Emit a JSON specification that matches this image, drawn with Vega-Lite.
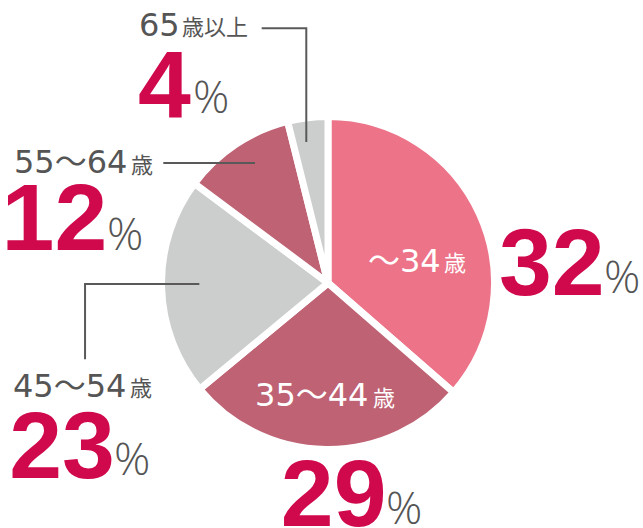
{
  "$schema": "https://vega.github.io/schema/vega-lite/v6.json",
  "width": 630,
  "height": 490,
  "autosize": {"type": "none"},
  "padding": {"left": 13, "top": 38, "right": 0, "bottom": 0},
  "background": "white",
  "config": {"view": {"stroke": null}},
  "data": {"values": [
    {"order": 1, "category": "～34歳", "lab": "～34", "unit": "歳", "share": 36.4, "pct": "32"},
    {"order": 2, "category": "35～44歳", "lab": "35～44", "unit": "歳", "share": 27.6, "pct": "29"},
    {"order": 3, "category": "45～54歳", "lab": "45～54", "unit": "歳", "share": 21.2, "pct": "23"},
    {"order": 4, "category": "55～64歳", "lab": "55～64", "unit": "歳", "share": 10.9, "pct": "12"},
    {"order": 5, "category": "65歳以上", "lab": "65", "unit": "歳以上", "share": 3.9, "pct": "4"}
  ]},
  "transform": [
    {"stack": "share", "groupby": [], "sort": [{"field": "order", "order": "ascending"}], "as": ["s0", "s1"]},
    {"calculate": "(datum.s0 + datum.s1) / 2", "as": "mid"}
  ],
  "layer": [
    {
      "mark": {"type": "arc", "outerRadius": 166.5, "stroke": "white", "strokeWidth": 7, "strokeJoin": "round"},
      "encoding": {
        "theta": {"field": "s0", "type": "quantitative", "stack": null, "scale": {"domain": [0, 100]}},
        "theta2": {"field": "s1"},
        "color": {"field": "category", "type": "nominal", "legend": null,
          "scale": {"domain": ["～34歳", "35～44歳", "45～54歳", "55～64歳", "65歳以上"],
                    "range": ["#ED7389", "#BE6274", "#CCCDCD", "#BE6274", "#CCCDCD"]}}
      }
    },
    {
      "transform": [{"filter": "datum.order == 5"}, {"calculate": "140 * sin(datum.mid / 50 * PI)", "as": "ax"}, {"calculate": "140 * cos(datum.mid / 50 * PI)", "as": "ay"}],
      "mark": {"type": "point", "shape": "M-4.6,-2.1V-115.8H-49.2", "size": 4, "filled": false, "color": "#595959", "stroke": "#595959", "strokeWidth": 2, "opacity": 1},
      "encoding": {
        "x": {"field": "ax", "type": "quantitative", "scale": {"domain": [-315, 315], "nice": false, "zero": false}, "axis": null},
        "y": {"field": "ay", "type": "quantitative", "scale": {"domain": [-245, 245], "nice": false, "zero": false}, "axis": null}
      }
    },
    {
      "transform": [{"filter": "datum.order == 4"}, {"calculate": "140 * sin(datum.mid / 50 * PI)", "as": "ax"}, {"calculate": "140 * cos(datum.mid / 50 * PI)", "as": "ay"}],
      "mark": {"type": "point", "shape": "M4.6,-3.5H-87.1", "size": 4, "filled": false, "color": "#595959", "stroke": "#595959", "strokeWidth": 2, "opacity": 1},
      "encoding": {
        "x": {"field": "ax", "type": "quantitative", "scale": {"domain": [-315, 315], "nice": false, "zero": false}, "axis": null},
        "y": {"field": "ay", "type": "quantitative", "scale": {"domain": [-245, 245], "nice": false, "zero": false}, "axis": null}
      }
    },
    {
      "transform": [{"filter": "datum.order == 3"}, {"calculate": "140 * sin(datum.mid / 50 * PI)", "as": "ax"}, {"calculate": "140 * cos(datum.mid / 50 * PI)", "as": "ay"}],
      "mark": {"type": "point", "shape": "M11.3,-2.5H-103V72.8", "size": 4, "filled": false, "color": "#595959", "stroke": "#595959", "strokeWidth": 2, "opacity": 1},
      "encoding": {
        "x": {"field": "ax", "type": "quantitative", "scale": {"domain": [-315, 315], "nice": false, "zero": false}, "axis": null},
        "y": {"field": "ay", "type": "quantitative", "scale": {"domain": [-245, 245], "nice": false, "zero": false}, "axis": null}
      }
    },
    {
      "transform": [{"filter": "datum.order == 1"}],
      "mark": {"type": "text", "radius": 100, "align": "left", "baseline": "alphabetic", "dx": -51, "dy": 30.1, "font": "DejaVu Sans, Noto Sans CJK JP", "fontSize": 32, "fill": "white"},
      "encoding": {"theta": {"field": "mid", "type": "quantitative", "stack": null, "scale": {"domain": [0, 100]}}, "text": {"field": "lab"}}
    },
    {
      "transform": [{"filter": "datum.order == 1"}],
      "mark": {"type": "text", "radius": 100, "align": "left", "baseline": "alphabetic", "dx": 25, "dy": 29.4, "font": "Noto Sans CJK JP", "fontSize": 22, "fill": "white"},
      "encoding": {"theta": {"field": "mid", "type": "quantitative", "stack": null, "scale": {"domain": [0, 100]}}, "text": {"field": "unit"}}
    },
    {
      "transform": [{"filter": "datum.order == 1"}],
      "mark": {"type": "text", "radius": 200, "align": "left", "baseline": "alphabetic", "dx": -11.1, "dy": 94.9, "font": "Liberation Sans", "fontWeight": "bold", "fontSize": 95, "fill": "#D0084C"},
      "encoding": {"theta": {"field": "mid", "type": "quantitative", "stack": null, "scale": {"domain": [0, 100]}}, "text": {"field": "pct"}}
    },
    {
      "transform": [{"filter": "datum.order == 1"}],
      "mark": {"type": "text", "text": "%", "radius": 200, "align": "left", "baseline": "alphabetic", "dx": 94, "dy": 92.9, "font": "Open Sans", "fontWeight": 300, "fontSize": 45, "fill": "#555555"},
      "encoding": {"theta": {"field": "mid", "type": "quantitative", "stack": null, "scale": {"domain": [0, 100]}}}
    },
    {
      "transform": [{"filter": "datum.order == 2"}],
      "mark": {"type": "text", "radius": 110, "align": "left", "baseline": "alphabetic", "dx": -71.6, "dy": 13, "font": "DejaVu Sans, Noto Sans CJK JP", "fontSize": 32, "fill": "white"},
      "encoding": {"theta": {"field": "mid", "type": "quantitative", "stack": null, "scale": {"domain": [0, 100]}}, "text": {"field": "lab"}}
    },
    {
      "transform": [{"filter": "datum.order == 2"}],
      "mark": {"type": "text", "radius": 110, "align": "left", "baseline": "alphabetic", "dx": 46.4, "dy": 13, "font": "Noto Sans CJK JP", "fontSize": 22, "fill": "white"},
      "encoding": {"theta": {"field": "mid", "type": "quantitative", "stack": null, "scale": {"domain": [0, 100]}}, "text": {"field": "unit"}}
    },
    {
      "transform": [{"filter": "datum.order == 2"}],
      "mark": {"type": "text", "radius": 220, "align": "left", "baseline": "alphabetic", "dx": -44.4, "dy": 23, "font": "Liberation Sans", "fontWeight": "bold", "fontSize": 95, "fill": "#D0084C"},
      "encoding": {"theta": {"field": "mid", "type": "quantitative", "stack": null, "scale": {"domain": [0, 100]}}, "text": {"field": "pct"}}
    },
    {
      "transform": [{"filter": "datum.order == 2"}],
      "mark": {"type": "text", "text": "%", "radius": 220, "align": "left", "baseline": "alphabetic", "dx": 60.8, "dy": 21, "font": "Open Sans", "fontWeight": 300, "fontSize": 45, "fill": "#555555"},
      "encoding": {"theta": {"field": "mid", "type": "quantitative", "stack": null, "scale": {"domain": [0, 100]}}}
    },
    {
      "transform": [{"filter": "datum.order == 3"}],
      "mark": {"type": "text", "radius": 220, "align": "left", "baseline": "alphabetic", "dx": -95.1, "dy": 108.2, "font": "DejaVu Sans, Noto Sans CJK JP", "fontSize": 32, "fill": "#555555"},
      "encoding": {"theta": {"field": "mid", "type": "quantitative", "stack": null, "scale": {"domain": [0, 100]}}, "text": {"field": "lab"}}
    },
    {
      "transform": [{"filter": "datum.order == 3"}],
      "mark": {"type": "text", "radius": 220, "align": "left", "baseline": "alphabetic", "dx": 21.9, "dy": 107.5, "font": "Noto Sans CJK JP", "fontSize": 22, "fill": "#555555"},
      "encoding": {"theta": {"field": "mid", "type": "quantitative", "stack": null, "scale": {"domain": [0, 100]}}, "text": {"field": "unit"}}
    },
    {
      "transform": [{"filter": "datum.order == 3"}],
      "mark": {"type": "text", "radius": 220, "align": "left", "baseline": "alphabetic", "dx": -98.8, "dy": 189.5, "font": "Liberation Sans", "fontWeight": "bold", "fontSize": 95, "fill": "#D0084C"},
      "encoding": {"theta": {"field": "mid", "type": "quantitative", "stack": null, "scale": {"domain": [0, 100]}}, "text": {"field": "pct"}}
    },
    {
      "transform": [{"filter": "datum.order == 3"}],
      "mark": {"type": "text", "text": "%", "radius": 220, "align": "left", "baseline": "alphabetic", "dx": 5.9, "dy": 186.5, "font": "Open Sans", "fontWeight": 300, "fontSize": 45, "fill": "#555555"},
      "encoding": {"theta": {"field": "mid", "type": "quantitative", "stack": null, "scale": {"domain": [0, 100]}}}
    },
    {
      "transform": [{"filter": "datum.order == 4"}],
      "mark": {"type": "text", "radius": 220, "align": "left", "baseline": "alphabetic", "dx": -192.1, "dy": 73.4, "font": "DejaVu Sans, Noto Sans CJK JP", "fontSize": 32, "fill": "#555555"},
      "encoding": {"theta": {"field": "mid", "type": "quantitative", "stack": null, "scale": {"domain": [0, 100]}}, "text": {"field": "lab"}}
    },
    {
      "transform": [{"filter": "datum.order == 4"}],
      "mark": {"type": "text", "radius": 220, "align": "left", "baseline": "alphabetic", "dx": -75.1, "dy": 73.1, "font": "Noto Sans CJK JP", "fontSize": 22, "fill": "#555555"},
      "encoding": {"theta": {"field": "mid", "type": "quantitative", "stack": null, "scale": {"domain": [0, 100]}}, "text": {"field": "unit"}}
    },
    {
      "transform": [{"filter": "datum.order == 4"}],
      "mark": {"type": "text", "radius": 220, "align": "left", "baseline": "alphabetic", "dx": -204.5, "dy": 150.1, "font": "Liberation Sans", "fontWeight": "bold", "fontSize": 95, "fill": "#D0084C"},
      "encoding": {"theta": {"field": "mid", "type": "quantitative", "stack": null, "scale": {"domain": [0, 100]}}, "text": {"field": "pct"}}
    },
    {
      "transform": [{"filter": "datum.order == 4"}],
      "mark": {"type": "text", "text": "%", "radius": 220, "align": "left", "baseline": "alphabetic", "dx": -99.1, "dy": 150.1, "font": "Open Sans", "fontWeight": 300, "fontSize": 45, "fill": "#555555"},
      "encoding": {"theta": {"field": "mid", "type": "quantitative", "stack": null, "scale": {"domain": [0, 100]}}}
    },
    {
      "transform": [{"filter": "datum.order == 5"}],
      "mark": {"type": "text", "radius": 220, "align": "left", "baseline": "alphabetic", "dx": -162.1, "dy": -28.6, "font": "DejaVu Sans, Noto Sans CJK JP", "fontSize": 32, "fill": "#555555"},
      "encoding": {"theta": {"field": "mid", "type": "quantitative", "stack": null, "scale": {"domain": [0, 100]}}, "text": {"field": "lab"}}
    },
    {
      "transform": [{"filter": "datum.order == 5"}],
      "mark": {"type": "text", "radius": 220, "align": "left", "baseline": "alphabetic", "dx": -119.1, "dy": -29.6, "font": "Noto Sans CJK JP", "fontSize": 22, "fill": "#555555"},
      "encoding": {"theta": {"field": "mid", "type": "quantitative", "stack": null, "scale": {"domain": [0, 100]}}, "text": {"field": "unit"}}
    },
    {
      "transform": [{"filter": "datum.order == 5"}],
      "mark": {"type": "text", "radius": 220, "align": "left", "baseline": "alphabetic", "dx": -163, "dy": 52.1, "font": "Liberation Sans", "fontWeight": "bold", "fontSize": 95, "fill": "#D0084C"},
      "encoding": {"theta": {"field": "mid", "type": "quantitative", "stack": null, "scale": {"domain": [0, 100]}}, "text": {"field": "pct"}}
    },
    {
      "transform": [{"filter": "datum.order == 5"}],
      "mark": {"type": "text", "text": "%", "radius": 220, "align": "left", "baseline": "alphabetic", "dx": -108.1, "dy": 48.4, "font": "Open Sans", "fontWeight": 300, "fontSize": 45, "fill": "#555555"},
      "encoding": {"theta": {"field": "mid", "type": "quantitative", "stack": null, "scale": {"domain": [0, 100]}}}
    }
  ]
}
